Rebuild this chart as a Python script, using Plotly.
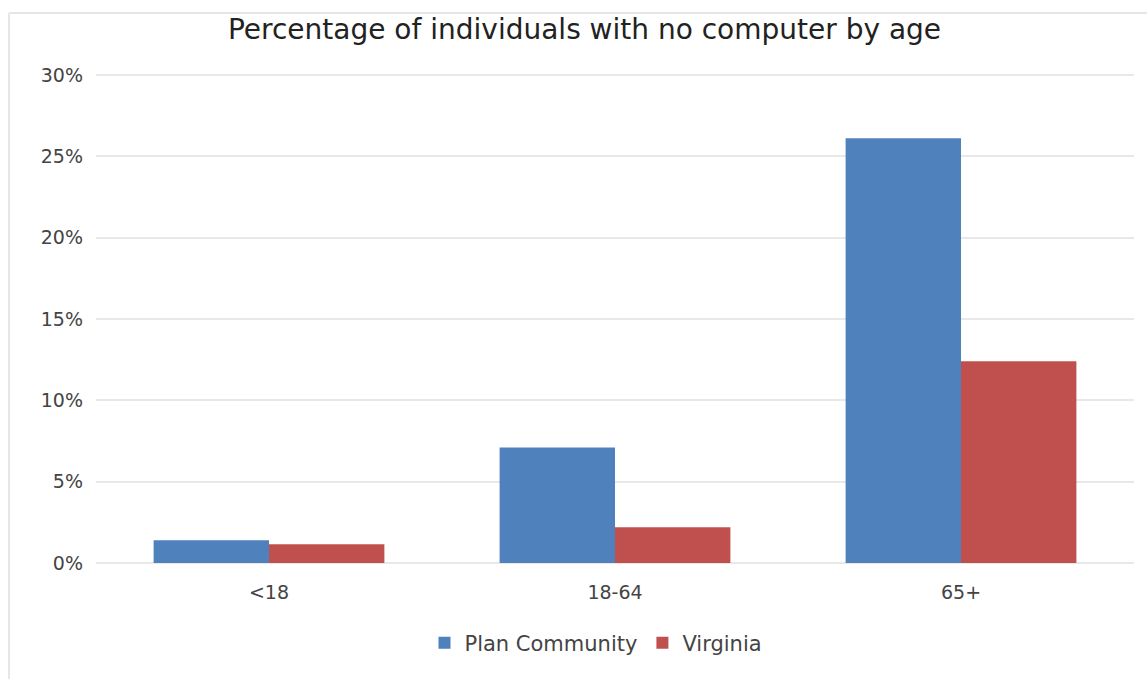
import plotly.graph_objects as go

# Share of individuals without a computer, by age group (percent)
age_groups = ["<18", "18-64", "65+"]
plan_community = [1.4, 7.1, 26.1]
virginia = [1.15, 2.2, 12.4]
y_ticks = [0, 5, 10, 15, 20, 25, 30]
y_tick_labels = [f"{v}%" for v in y_ticks]

BLUE = "#4f81bd"
RED = "#c0504d"
FONT = "DejaVu Sans"

fig = go.Figure()
fig.add_trace(go.Bar(name="Plan Community", x=age_groups, y=plan_community,
                     marker=dict(color=BLUE, line=dict(width=0))))
fig.add_trace(go.Bar(name="Virginia", x=age_groups, y=virginia,
                     marker=dict(color=RED, line=dict(width=0))))

W, H = 1147, 679
L, R, T, B = 96, 13, 70, 113
pw, ph = W - L - R, H - T - B
PX_PER_UNIT = 16.27  # vertical pixels per percentage point
y_lo = -3 / PX_PER_UNIT
y_hi = y_lo + ph / PX_PER_UNIT

def px_x(x):
    return (x - L) / pw

def px_y(y):
    return (H - B - y) / ph

# light frame around the chart (top and left edges are visible)
fig.add_shape(type="line", xref="paper", yref="paper",
              x0=px_x(9), x1=px_x(1200), y0=px_y(13), y1=px_y(13),
              line=dict(color="#e6e6e6", width=2))
fig.add_shape(type="line", xref="paper", yref="paper",
              x0=px_x(9), x1=px_x(9), y0=px_y(13), y1=px_y(720),
              line=dict(color="#e6e6e6", width=2))

fig.update_layout(
    width=W, height=H,
    margin=dict(l=L, r=R, t=T, b=B, autoexpand=False),
    paper_bgcolor="white", plot_bgcolor="white",
    barmode="group", bargap=0.333, bargroupgap=0,
    font=dict(family=FONT, color="#444444"),
    title=dict(text="Percentage of individuals with no computer by age",
               xref="container", x=584.5 / W, xanchor="center",
               yref="container", y=1 - 29 / H, yanchor="middle",
               font=dict(family=FONT, size=28, color="#222222")),
    legend=dict(orientation="h", xref="container", yref="container",
                x=596 / W, xanchor="center", y=1 - 643 / H, yanchor="middle",
                font=dict(family=FONT, size=21, color="#444444"),
                itemwidth=30, traceorder="normal"),
    xaxis=dict(showgrid=False, showline=False, ticks="",
               tickfont=dict(family=FONT, size=19, color="#444444"),
               ticklabelstandoff=13),
    yaxis=dict(range=[y_lo, y_hi], tickmode="array", tickvals=y_ticks,
               ticktext=y_tick_labels, showgrid=True, gridcolor="#e8e8e8",
               gridwidth=2, zeroline=False, showline=False, ticks="",
               tickfont=dict(family=FONT, size=19, color="#444444"),
               ticklabelstandoff=12),
)

fig.write_html("out.html")
